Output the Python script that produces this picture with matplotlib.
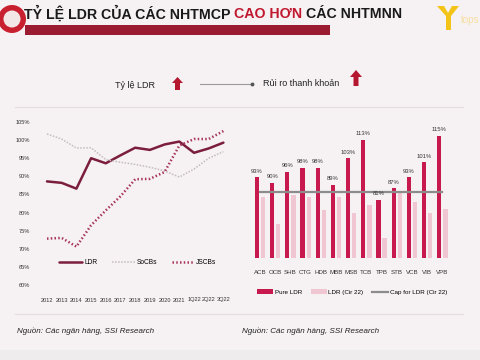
import matplotlib
matplotlib.use("Agg")
import matplotlib.pyplot as plt
from matplotlib.patches import Rectangle, Ellipse, Polygon
from matplotlib.lines import Line2D

plt.rcParams['font.family'] = ['Liberation Sans', 'DejaVu Sans']

# ---------------- data ----------------
periods = ["2012", "2013", "2014", "2015", "2016", "2017", "2018", "2019",
           "2020", "2021", "1Q22", "2Q22", "3Q22"]
ldr = [88.6, 88.2, 86.6, 95.0, 93.6, 95.8, 97.9, 97.3, 98.8, 99.6, 96.5, 97.7, 99.3]
socbs = [101.7, 100.3, 97.8, 97.9, 94.6, 93.9, 93.3, 92.5, 91.5, 89.8, 92.0, 95.0, 96.8]
jscbs = [72.8, 73.0, 70.6, 76.5, 80.6, 84.5, 89.2, 89.3, 91.2, 98.5, 100.3, 100.3, 102.5]
left_yticks = [60, 65, 70, 75, 80, 85, 90, 95, 100, 105]

banks = ["ACB", "OCB", "SHB", "CTG", "HDB", "MBB", "MSB", "TCB", "TPB", "STB", "VCB", "VIB", "VPB"]
pure_ldr = [93, 90, 96, 98, 98, 89, 103, 113, 81, 87, 93, 101, 115]
ldr_cir22 = [82.5, 68.3, 83.3, 82.5, 75.3, 82.5, 74.0, 78.0, 60.7, 84.5, 79.6, 74.0, 75.9]
cap_ldr = [85] * len(banks)

# ---------------- helpers ----------------
W, H = 480, 360
def fx(px): return px / W
def fy(py): return 1 - py / H

BG = '#f6f1f3'
fig = plt.figure(figsize=(4.8, 3.6), dpi=100, facecolor=BG)

# bottom band
fig.add_artist(Rectangle((0, 0), 1, fy(350), transform=fig.transFigure,
                         facecolor='#efeced', edgecolor='none', zorder=0))

# ---------------- title ----------------
fig.add_artist(Rectangle((fx(25), fy(35)), fx(330) - fx(25), fy(25) - fy(35),
                         transform=fig.transFigure, facecolor='#9b1c31', edgecolor='none'))
TS = 10.2
t1 = fig.text(fx(24), fy(14), "TỶ LỆ LDR CỦA CÁC NHTMCP ", fontsize=TS, fontweight='bold',
              color='#1a1a1a', va='center', ha='left')
fig.canvas.draw()
r = fig.canvas.get_renderer()
bb = t1.get_window_extent(r)
t2 = fig.text(bb.x1 / W, fy(14), "CAO HƠN ", fontsize=TS, fontweight='bold',
              color='#c0182f', va='center', ha='left')
bb2 = t2.get_window_extent(r)
fig.text(bb2.x1 / W, fy(14), "CÁC NHTMNN", fontsize=TS, fontweight='bold',
         color='#1a1a1a', va='center', ha='left')

# left logo
fig.add_artist(Ellipse((fx(12), fy(19)), fx(28), 28 / H, transform=fig.transFigure,
                       facecolor='#c8202f', edgecolor='none', zorder=5))
fig.add_artist(Ellipse((fx(12), fy(19)), fx(17), 17 / H, transform=fig.transFigure,
                       facecolor='#f3e6e6', edgecolor='none', zorder=6))
# right logo (yellow)
fig.add_artist(Polygon([(fx(437), fy(6)), (fx(444), fy(6)), (fx(448), fy(13)), (fx(452), fy(6)),
                        (fx(459), fy(6)), (fx(451), fy(16)), (fx(451), fy(30)), (fx(446), fy(30)),
                        (fx(446), fy(16))], closed=True, transform=fig.transFigure,
                       facecolor='#f3c318', edgecolor='none'))
fig.text(fx(461), fy(20), "tops", fontsize=7, color='#f7dfa0', va='center', ha='left')

# ---------------- section headers ----------------
fig.text(fx(135), fy(85), "Tỷ lệ LDR", fontsize=6.5, color='#222222', ha='center', va='center')
fig.add_artist(Polygon([(fx(177.5), fy(77)), (fx(183), fy(83)), (fx(180), fy(83)), (fx(180), fy(90)),
                        (fx(175), fy(90)), (fx(175), fy(83)), (fx(172), fy(83))], closed=True,
                       transform=fig.transFigure, facecolor='#b5172f', edgecolor='none'))
fig.add_artist(Line2D([fx(200), fx(252)], [fy(84), fy(84)], transform=fig.transFigure,
                      color='#9a9a9a', lw=0.8))
fig.add_artist(Line2D([fx(252)], [fy(84)], transform=fig.transFigure, marker='o',
                      markersize=1.8, color='#555555', lw=0))
fig.text(fx(263), fy(84), "Rủi ro thanh khoản", fontsize=6.5, color='#222222', ha='left', va='center')
fig.add_artist(Polygon([(fx(356), fy(70)), (fx(362), fy(77)), (fx(358.5), fy(77)), (fx(358.5), fy(86)),
                        (fx(353.5), fy(86)), (fx(353.5), fy(77)), (fx(350), fy(77))], closed=True,
                       transform=fig.transFigure, facecolor='#b5172f', edgecolor='none'))

# separators
for yy in (107, 314):
    fig.add_artist(Line2D([fx(15), fx(463)], [fy(yy), fy(yy)], transform=fig.transFigure,
                          color='#e4dde0', lw=0.8))

# footers
for xx in (17, 242):
    fig.text(fx(xx), fy(331), "Nguồn: Các ngân hàng, SSI Research", fontsize=5.8,
             style='italic', color='#222222', ha='left', va='center')

# ---------------- left chart ----------------
axL = fig.add_axes([fx(40), fy(285), fx(230) - fx(40), fy(122) - fy(285)], facecolor='none')
x = list(range(len(periods)))
axL.plot(x, ldr, color='#7b1e3c', lw=1.8, solid_capstyle='round', label='LDR')
axL.plot(x, socbs, color='#c3bcc0', lw=1.1, linestyle=(0, (1, 1)), label='SoCBs')
axL.plot(x, jscbs, color='#a8345c', lw=1.8, linestyle=(0, (0.6, 0.9)), label='JSCBs')
axL.set_xlim(-0.476, 12.449)
axL.set_ylim(60, 105)
axL.set_yticks(left_yticks)
axL.set_yticklabels([f"{v}%" for v in left_yticks])
axL.set_xticks(x)
axL.set_xticklabels(periods)
for s in axL.spines.values():
    s.set_visible(False)
axL.tick_params(length=0, labelsize=4.1, colors='#333333')
axL.tick_params(axis='y', pad=7)
axL.tick_params(axis='x', pad=9)
axL.legend(loc='center', ncol=3, frameon=False,
           fontsize=4.8, handlelength=3.4, columnspacing=2.2, handletextpad=0.3,
           bbox_to_anchor=((138 - 40) / 190, (285 - 262.7) / 163), bbox_transform=axL.transAxes)

# ---------------- right chart ----------------
axR = fig.add_axes([fx(245), fy(258), fx(460) - fx(245), fy(126.4) - fy(258)], facecolor='none')
xb = list(range(len(banks)))
bw = 0.28
off = 0.2
b1 = axR.bar([i - off for i in xb], pure_ldr, width=bw, color='#c8194f', label='Pure LDR', zorder=2)
b2 = axR.bar([i + off for i in xb], ldr_cir22, width=bw, color='#f1c6d3', label='LDR (Cir 22)', zorder=2)
l1, = axR.plot(xb, cap_ldr, color='#8c8c8c', lw=1.6, label='Cap for LDR (Cir 22)', zorder=3)
for i, v in enumerate(pure_ldr):
    axR.text(i - off, v + 1.8, f"{v}%", ha='center', va='bottom', fontsize=4.2, color='#333333')
axR.set_xlim(-0.987, 13.16)
axR.set_ylim(50, 120)
axR.set_yticks([])
axR.set_xticks(xb)
axR.set_xticklabels(banks)
for s in axR.spines.values():
    s.set_visible(False)
axR.tick_params(length=0, labelsize=4.4, colors='#333333', pad=9)
axR.legend(handles=[b1, b2, l1], loc='center',
           bbox_to_anchor=((352 - 245) / 215, -(292 - 258) / 131.6), ncol=3,
           frameon=False, fontsize=4.5, handlelength=2.6, handleheight=0.8,
           columnspacing=1.4, handletextpad=0.2)

fig.savefig("out.png", dpi=100, facecolor=BG)
